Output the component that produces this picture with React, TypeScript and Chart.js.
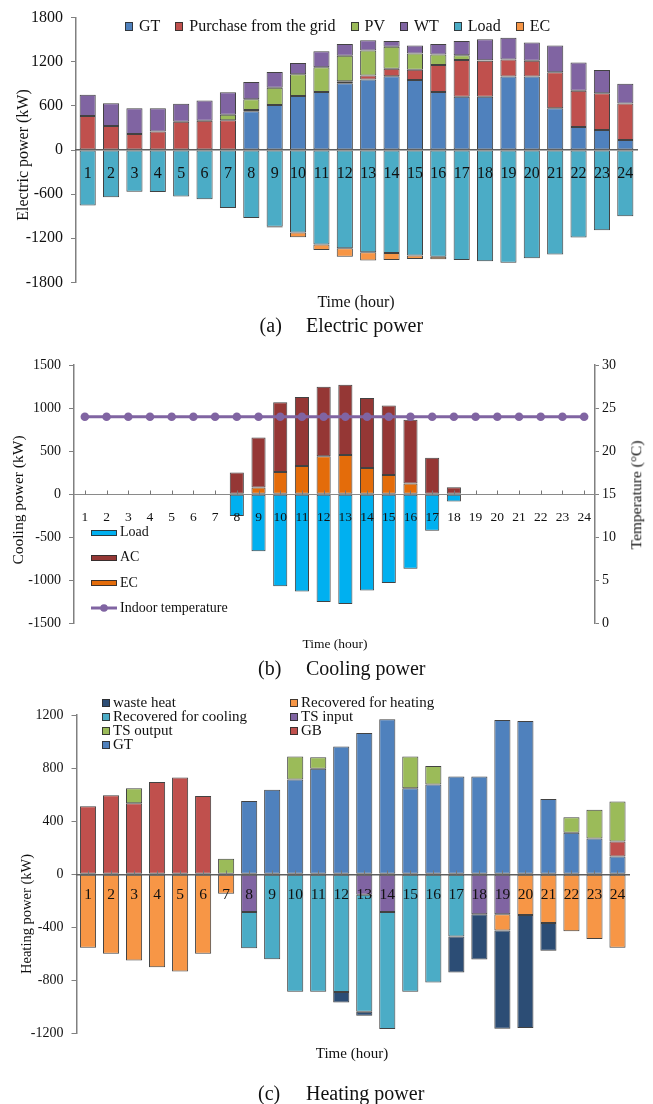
import React, { useEffect, useRef } from 'react';
import { Chart, registerables } from 'chart.js';

Chart.register(...registerables);

const FONT = '"Liberation Serif", "Times New Roman", Times, serif';
const TEXT = '#111111';
const OUTLINE = 'rgba(45,45,45,0.9)';

const HOURS = ['1', '2', '3', '4', '5', '6', '7', '8', '9', '10', '11', '12', '13', '14', '15', '16', '17', '18', '19', '20', '21', '22', '23', '24'];

// (a) Electric power (kW)
const elecTicks = [-1800, -1200, -600, 0, 600, 1200, 1800];
const elecGT = [0, 0, 0, 0, 0, 0, 0, 528, 611, 733, 790, 907, 960, 1003, 951, 790, 724, 724, 999, 999, 567, 314, 271, 135];
const elecGrid = [462, 327, 218, 253, 384, 397, 406, 15, 0, 0, 0, 27, 52, 101, 140, 366, 498, 489, 231, 214, 489, 493, 501, 498];
const elecPV = [0, 0, 0, 0, 0, 0, 74, 146, 235, 297, 336, 349, 341, 301, 222, 144, 65, 6, 0, 0, 0, 0, 0, 0];
const elecWT = [288, 310, 349, 314, 244, 275, 305, 236, 214, 152, 218, 157, 139, 78, 109, 140, 196, 288, 297, 249, 366, 384, 314, 266];
const elecLoad = [-756, -642, -567, -571, -633, -668, -787, -923, -1045, -1121, -1284, -1336, -1389, -1402, -1433, -1451, -1495, -1512, -1534, -1473, -1420, -1191, -1090, -901];
const elecEC = [0, 0, 0, 0, 0, 0, 0, 0, -8, -66, -74, -115, -114, -93, -48, -35, 0, 0, 0, 0, 0, 0, 0, 0];

// (b) Cooling power (kW) and indoor temperature (°C)
const coolLoad = [0, 0, 0, 0, 0, 0, 0, -253, -660, -1068, -1128, -1249, -1272, -1117, -1030, -864, -423, -83, 0, 0, 0, 0, 0, 0];
const coolEC = [0, 0, 0, 0, 0, 0, 0, 0, 79, 260, 328, 442, 457, 306, 223, 125, 0, 0, 0, 0, 0, 0, 0, 0];
const coolAC = [0, 0, 0, 0, 0, 0, 0, 253, 581, 808, 800, 807, 815, 811, 807, 739, 423, 83, 0, 0, 0, 0, 0, 0];
const indoorTemp = [24, 24, 24, 24, 24, 24, 24, 24, 24, 24, 24, 24, 24, 24, 24, 24, 24, 24, 24, 24, 24, 24, 24, 24];

// (c) Heating power (kW)
const heatGT = [0, 0, 0, 0, 0, 0, 0, 553, 637, 715, 796, 963, 1065, 1168, 649, 676, 737, 737, 1163, 1154, 568, 313, 269, 135];
const heatGB = [512, 595, 536, 696, 730, 590, 0, 0, 0, 0, 0, 0, 0, 0, 0, 0, 0, 0, 0, 0, 0, 0, 0, 112];
const heatTSout = [0, 0, 113, 0, 0, 0, 118, 0, 0, 172, 86, 0, 0, 0, 238, 140, 0, 0, 0, 0, 0, 116, 218, 302];
const heatTSin = [0, 0, 0, 0, 0, 0, 0, -284, 0, 0, 0, 0, -154, -284, 0, 0, 0, -301, -301, 0, 0, 0, 0, 0];
const heatRecHeat = [-553, -598, -649, -700, -732, -598, -147, 0, 0, 0, 0, 0, 0, 0, 0, 0, 0, 0, -123, -306, -367, -429, -487, -553];
const heatRecCool = [0, 0, 0, 0, 0, 0, 0, -274, -639, -884, -884, -887, -882, -882, -884, -816, -468, 0, 0, 0, 0, 0, 0, 0];
const heatWaste = [0, 0, 0, 0, 0, 0, 0, 0, 0, 0, 0, -78, -29, 0, 0, 0, -272, -341, -739, -852, -208, 0, 0, 0];

const nz = (arr: number[]) => arr.map((v) => (v === 0 ? null : v));

type Item = { text: string; color: string; kind?: 'box' | 'line' };
type Layout = {
  mode: 'row' | 'grid' | 'column';
  x: number;
  y: number;
  colX?: number[];
  rowH?: number;
  bw: number;
  bh: number;
  gap: number;
  spacing?: number;
  fontSize: number;
};

function makeLegend(id: string, layout: Layout, items: Item[]) {
  return {
    id,
    afterDraw(chart: any) {
      const ctx = chart.ctx as CanvasRenderingContext2D;
      ctx.save();
      ctx.font = `${layout.fontSize}px ${FONT}`;
      ctx.textBaseline = 'middle';
      ctx.textAlign = 'left';
      let cursor = layout.x;
      items.forEach((it, i) => {
        let bx: number;
        let cy: number;
        if (layout.mode === 'row') {
          bx = cursor;
          cy = layout.y;
        } else if (layout.mode === 'grid') {
          const cols = layout.colX!.length;
          bx = layout.colX![i % cols];
          cy = layout.y + Math.floor(i / cols) * layout.rowH!;
        } else {
          bx = layout.x;
          cy = layout.y + i * layout.rowH!;
        }
        if (it.kind === 'line') {
          ctx.strokeStyle = it.color;
          ctx.lineWidth = 3;
          ctx.beginPath();
          ctx.moveTo(bx, cy);
          ctx.lineTo(bx + layout.bw, cy);
          ctx.stroke();
          ctx.fillStyle = it.color;
          ctx.beginPath();
          ctx.arc(bx + layout.bw / 2, cy, 3.8, 0, Math.PI * 2);
          ctx.fill();
        } else {
          const x0 = Math.round(bx);
          const y0 = Math.round(cy - layout.bh / 2);
          ctx.fillStyle = it.color;
          ctx.fillRect(x0, y0, layout.bw, layout.bh);
          ctx.strokeStyle = OUTLINE;
          ctx.lineWidth = 1;
          ctx.strokeRect(x0 + 0.5, y0 + 0.5, layout.bw - 1, layout.bh - 1);
        }
        ctx.fillStyle = TEXT;
        const tx = bx + layout.bw + layout.gap;
        ctx.fillText(it.text, tx, cy);
        cursor = tx + ctx.measureText(it.text).width + (layout.spacing || 0);
      });
      ctx.restore();
    },
  };
}

const upTicks = {
  id: 'upTicks',
  afterDraw(chart: any) {
    const xs = chart.scales.x;
    const ys = chart.scales.y;
    const ctx = chart.ctx as CanvasRenderingContext2D;
    const y0 = Math.round(ys.getPixelForValue(0)) + 0.5;
    ctx.save();
    ctx.strokeStyle = '#777';
    ctx.lineWidth = 1;
    ctx.beginPath();
    for (let i = 0; i < HOURS.length; i++) {
      const px = Math.round(xs.getPixelForValue(i)) + 0.5;
      ctx.moveTo(px, y0);
      ctx.lineTo(px, y0 - 4);
    }
    ctx.stroke();
    ctx.restore();
  },
};

const barDefaults = (pct: number) => ({
  borderColor: OUTLINE,
  borderWidth: 1,
  borderSkipped: false,
  categoryPercentage: 1,
  barPercentage: pct,
});

function xAxis(fontSize: number, padding: number, borderColor: string, borderWidth: number) {
  return {
    type: 'category',
    stacked: true,
    position: { y: 0 },
    grid: { display: false, drawTicks: false },
    border: { display: true, color: borderColor, width: borderWidth, z: 1 },
    ticks: {
      z: 1,
      padding,
      color: TEXT,
      autoSkip: false,
      maxRotation: 0,
      font: { size: fontSize, family: FONT },
    },
  };
}

function yAxis(min: number, max: number, step: number, fontSize: number, width: number, position = 'left', stacked = true) {
  return {
    type: 'linear',
    position,
    stacked,
    min,
    max,
    ticks: {
      stepSize: step,
      padding: position === 'left' ? 8 : 3,
      color: TEXT,
      font: { size: fontSize, family: FONT },
      callback: (v: any) => String(v),
    },
    grid: { drawOnChartArea: false, drawTicks: true, tickLength: position === 'left' ? 5 : 4, color: '#808080' },
    border: { display: true, color: '#808080', width: 1.5 },
    afterFit: (s: any) => {
      s.width = width;
    },
  };
}

function configA(): any {
  const datasets = [
    { label: 'GT', data: nz(elecGT), backgroundColor: '#4F81BD' },
    { label: 'Purchase from the grid', data: nz(elecGrid), backgroundColor: '#C0504D' },
    { label: 'PV', data: nz(elecPV), backgroundColor: '#9BBB59' },
    { label: 'WT', data: nz(elecWT), backgroundColor: '#8064A2' },
    { label: 'Load', data: nz(elecLoad), backgroundColor: '#4BACC6' },
    { label: 'EC', data: nz(elecEC), backgroundColor: '#F79646' },
  ];
  const items = datasets.map((d) => ({ text: d.label, color: d.backgroundColor }));
  return {
    type: 'bar',
    data: { labels: HOURS, datasets },
    options: {
      responsive: false,
      maintainAspectRatio: false,
      animation: false,
      layout: { padding: { left: 0, right: 16, top: 17, bottom: 12 } },
      datasets: { bar: barDefaults(0.69) },
      plugins: { legend: { display: false }, tooltip: { enabled: false } },
      scales: {
        x: xAxis(16, 14, '#606060', 1.5),
        y: { ...yAxis(elecTicks[0], elecTicks[elecTicks.length - 1], 600, 16, 76) },
      },
    },
    plugins: [
      makeLegend('legendA', { mode: 'row', x: 125, y: 26.7, bw: 8, bh: 9, gap: 6, spacing: 15, fontSize: 16 }, items),
    ],
  };
}

function configB(): any {
  const load = { label: 'Load', data: nz(coolLoad), backgroundColor: '#00B0F0' };
  const ec = { label: 'EC', data: nz(coolEC), backgroundColor: '#E46C0A' };
  const ac = { label: 'AC', data: nz(coolAC), backgroundColor: '#953735' };
  const temp = {
    type: 'line',
    label: 'Indoor temperature',
    data: indoorTemp,
    yAxisID: 'y2',
    borderColor: '#8064A2',
    backgroundColor: '#8064A2',
    borderWidth: 3,
    pointRadius: 4.3,
    pointBorderWidth: 0,
    pointBackgroundColor: '#8064A2',
  };
  const items: Item[] = [
    { text: load.label, color: load.backgroundColor },
    { text: ac.label, color: ac.backgroundColor },
    { text: ec.label, color: ec.backgroundColor },
    { text: temp.label, color: temp.borderColor, kind: 'line' },
  ];
  return {
    type: 'bar',
    data: { labels: HOURS, datasets: [temp, load, ec, ac] },
    options: {
      responsive: false,
      maintainAspectRatio: false,
      animation: false,
      layout: { padding: { left: 0, right: 0, top: 25, bottom: 9.3 } },
      datasets: { bar: barDefaults(0.65) },
      plugins: { legend: { display: false }, tooltip: { enabled: false } },
      scales: {
        x: xAxis(13.5, 15.5, '#8a8a8a', 1),
        y: yAxis(-1500, 1500, 500, 14, 74),
        y2: yAxis(0, 30, 5, 14, 58, 'right', false),
      },
    },
    plugins: [
      upTicks,
      makeLegend('legendB', { mode: 'column', x: 91, y: 192.7, rowH: 25.1, bw: 26, bh: 6, gap: 3, fontSize: 14 }, items),
    ],
  };
}

function configC(): any {
  const datasets = [
    { label: 'GT', data: nz(heatGT), backgroundColor: '#4F81BD' },
    { label: 'GB', data: nz(heatGB), backgroundColor: '#C0504D' },
    { label: 'TS output', data: nz(heatTSout), backgroundColor: '#9BBB59' },
    { label: 'TS input', data: nz(heatTSin), backgroundColor: '#8064A2' },
    { label: 'Recovered for heating', data: nz(heatRecHeat), backgroundColor: '#F79646' },
    { label: 'Recovered for cooling', data: nz(heatRecCool), backgroundColor: '#4BACC6' },
    { label: 'waste heat', data: nz(heatWaste), backgroundColor: '#2C4D75' },
  ];
  const legendOrder = ['waste heat', 'Recovered for heating', 'Recovered for cooling', 'TS input', 'TS output', 'GB', 'GT'];
  const items = legendOrder.map((name) => {
    const d = datasets.find((ds) => ds.label === name)!;
    return { text: d.label, color: d.backgroundColor };
  });
  return {
    type: 'bar',
    data: { labels: HOURS, datasets },
    options: {
      responsive: false,
      maintainAspectRatio: false,
      animation: false,
      layout: { padding: { left: 0, right: 24, top: 25, bottom: 8.3 } },
      datasets: { bar: barDefaults(0.7) },
      plugins: { legend: { display: false }, tooltip: { enabled: false } },
      scales: {
        x: xAxis(15.5, 11.5, '#606060', 1.5),
        y: yAxis(-1200, 1200, 400, 14, 76.5),
      },
    },
    plugins: [
      upTicks,
      makeLegend('legendC', { mode: 'grid', x: 102, y: 13.3, colX: [102, 290], rowH: 14, bw: 8, bh: 8, gap: 3, fontSize: 15 }, items),
    ],
  };
}

const baseText: React.CSSProperties = {
  position: 'absolute',
  lineHeight: 1,
  whiteSpace: 'nowrap',
  fontFamily: FONT,
  color: TEXT,
};

function CText({ x, y, size, rotate, children }: { x: number; y: number; size: number; rotate?: boolean; children: React.ReactNode }) {
  return (
    <div style={{ ...baseText, left: x, top: y, fontSize: size, transform: `translate(-50%, -50%)${rotate ? ' rotate(-90deg)' : ''}` }}>
      {children}
    </div>
  );
}

function LText({ x, y, size, children }: { x: number; y: number; size: number; children: React.ReactNode }) {
  return <div style={{ ...baseText, left: x, top: y, fontSize: size, transform: 'translate(0, -50%)' }}>{children}</div>;
}

export default function App() {
  const refA = useRef<HTMLCanvasElement>(null);
  const refB = useRef<HTMLCanvasElement>(null);
  const refC = useRef<HTMLCanvasElement>(null);

  useEffect(() => {
    const charts = [
      new Chart(refA.current as HTMLCanvasElement, configA()),
      new Chart(refB.current as HTMLCanvasElement, configB()),
      new Chart(refC.current as HTMLCanvasElement, configC()),
    ];
    return () => charts.forEach((c) => c.destroy());
  }, []);

  return (
    <div style={{ position: 'absolute', left: 0, top: 0, width: 653, height: 1104, background: '#ffffff', overflow: 'hidden' }}>
      <canvas ref={refA} width={653} height={300} style={{ position: 'absolute', left: 0, top: 0, width: 653, height: 300 }} />
      <canvas ref={refB} width={653} height={300} style={{ position: 'absolute', left: 0, top: 340, width: 653, height: 300 }} />
      <canvas ref={refC} width={653} height={360} style={{ position: 'absolute', left: 0, top: 690, width: 653, height: 360 }} />

      <CText x={22.5} y={155} size={16} rotate>Electric power (kW)</CText>
      <CText x={356} y={301.7} size={16}>Time (hour)</CText>
      <LText x={259.6} y={325} size={20}>(a)</LText>
      <LText x={306} y={325} size={20}>Electric power</LText>

      <CText x={17.5} y={500} size={15.5} rotate>Cooling power (kW)</CText>
      <CText x={635.5} y={495} size={15.5} rotate>Temperature (°C)</CText>
      <CText x={335} y={644} size={13.5}>Time (hour)</CText>
      <LText x={258} y={668} size={20}>(b)</LText>
      <LText x={306} y={668} size={20}>Cooling power</LText>

      <CText x={26} y={914} size={14.5} rotate>Heating power (kW)</CText>
      <CText x={352} y={1052.7} size={15}>Time (hour)</CText>
      <LText x={258} y={1093} size={20}>(c)</LText>
      <LText x={306} y={1093} size={20}>Heating power</LText>
    </div>
  );
}
